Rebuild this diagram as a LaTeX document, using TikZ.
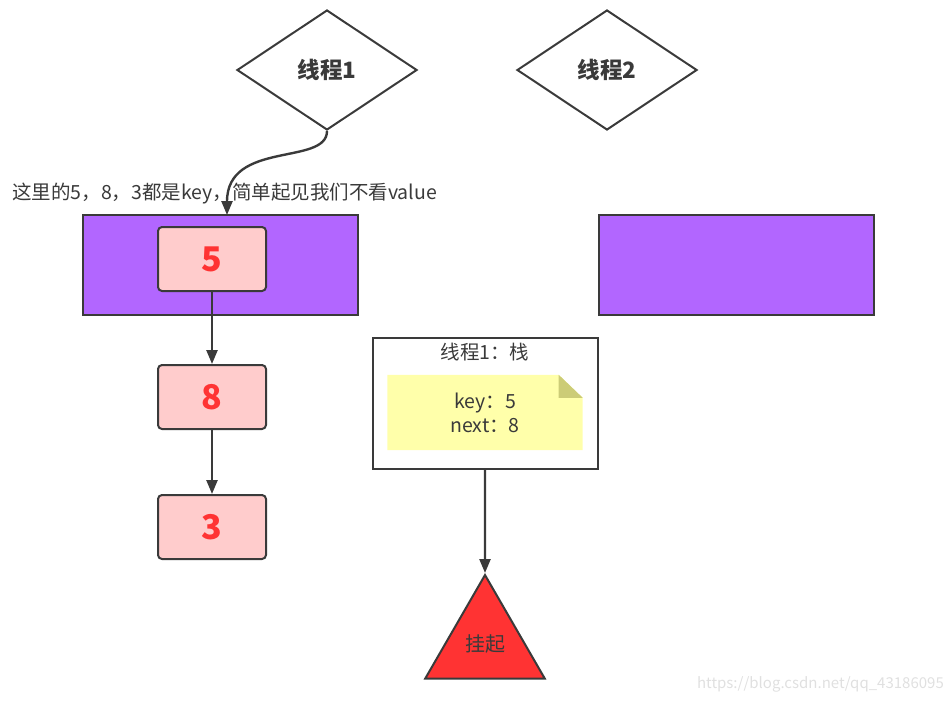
\documentclass[tikz,border=0pt]{standalone}
\usepackage{fontspec}
\setmainfont{Noto Sans CJK SC}
\usetikzlibrary{shapes.geometric,arrows.meta,backgrounds}

\definecolor{edge}{HTML}{3A3A3A}
\definecolor{slot}{HTML}{B266FF}
\definecolor{keyfill}{HTML}{FFCCCC}
\definecolor{keytext}{HTML}{FF3333}
\definecolor{notefill}{HTML}{FFFFAA}
\definecolor{notefold}{HTML}{CCCC77}
\definecolor{hangfill}{HTML}{FF3333}

\begin{document}
\begin{tikzpicture}[
    x=1pt, y=-1pt,
    thread/.style={diamond, draw=edge, line width=2pt, minimum width=180pt, minimum height=120pt, inner sep=0pt, font=\fontsize{22.5}{26}\selectfont\bfseries, text=edge},
    bucket/.style={draw=edge, line width=2pt, fill=slot, minimum width=275pt, minimum height=100pt, inner sep=0pt},
    entry/.style={draw=edge, line width=2pt, fill=keyfill, rounded corners=4pt, minimum width=108pt, minimum height=64pt, inner sep=0pt, font=\fontsize{34}{38}\selectfont\bfseries, text=keytext},
    arrow/.style={->, >={Triangle[length=14pt,width=11pt]}, line width=2.4pt, draw=edge},
    caption/.style={font=\fontsize{19.5}{24}\selectfont, text=edge, inner sep=0pt}
]
\useasboundingbox (0,0) rectangle (952,702);

% threads
\node[thread] (t1) at (327,70) {线程1};
\node[thread] (t2) at (607,70) {线程2};

% buckets of the map
\node[bucket] (b1) at (220.5,265) {};
\node[bucket] (b2) at (736,265) {};
\node[caption, anchor=west] (note1) at (12,194) {这里的5，8，3都是key，简单起见我们不看value};

% linked entries
\node[entry] (k5) at (212,259) {5};
\node[entry] (k8) at (212,397) {8};
\node[entry] (k3) at (212,527) {3};

% stack of thread 1
\node[draw=edge, line width=2pt, minimum width=225pt, minimum height=131pt, inner sep=0pt] (stack) at (485,403.5) {};
\node[caption] (stacktitle) at (485,352) {线程1：栈};
\node[caption, align=center, minimum width=195pt, minimum height=75pt] (frame) at (485,412.5) {key：5\\next：8};
\begin{scope}[on background layer]
  \fill[notefill] (frame.north west) -- ([xshift=-24pt]frame.north east) -- ([yshift=-23pt]frame.north east)
    -- (frame.south east) -- (frame.south west) -- cycle;
  \fill[notefold] ([xshift=-24pt]frame.north east) -- ([xshift=-24pt,yshift=-23pt]frame.north east)
    -- ([yshift=-23pt]frame.north east) -- cycle;
\end{scope}

% suspended
\node[regular polygon, regular polygon sides=3, minimum size=138pt, inner sep=0pt, draw=edge, line width=2pt, fill=hangfill, font=\fontsize{20}{24}\selectfont, text=edge] (hang) at (485,644) {挂起};

\node[font=\fontsize{15}{18}\selectfont, text=black!12, anchor=east, inner sep=0pt] (mark) at (944,684) {https://blog.csdn.net/qq\_43186095};

% arrows
\coordinate (drop) at (227,215);
\draw[arrow] (t1.south) .. controls +(0,35) and +(0,-75) .. (drop);
\draw[arrow] (k5) -- (k8);
\draw[arrow] (k8) -- (k3);
\draw[arrow] (stack) -- (hang.north);
\end{tikzpicture}
\end{document}
